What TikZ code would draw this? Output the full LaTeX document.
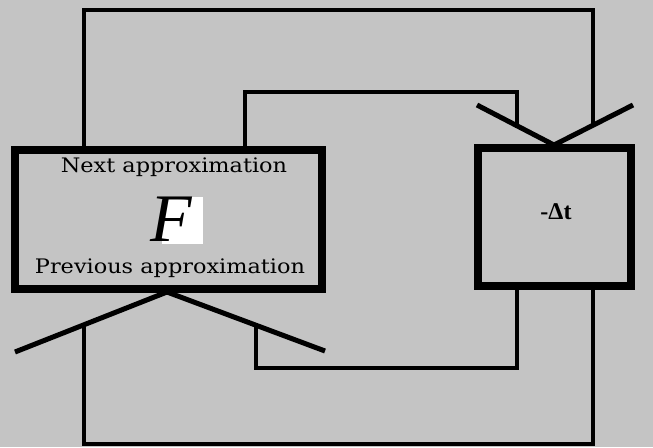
\documentclass[tikz,border=0pt]{standalone}
\usepackage{fontspec}
\setmainfont{DejaVu Serif}
\newfontfamily\labfont[FakeStretch=1.12]{DejaVu Serif}
\newfontfamily\boldlab{Liberation Serif}
\newfontfamily\bigf{Liberation Serif}
\definecolor{bg}{HTML}{C4C4C4}
\begin{document}
\begin{tikzpicture}[x=1pt,y=-1pt,
  wire/.style={line width=4pt, line join=miter},
  arm/.style={line width=5pt},
  lbl/.style={inner sep=0pt, font=\labfont\fontsize{20}{20}\selectfont}]
\fill[bg] (0,0) rectangle (653,447);
\useasboundingbox (0,0) rectangle (653,447);

% node positions (boxes are drawn last, see below)
\path (168.5,219.5) node[minimum width=307pt, minimum height=139pt, inner sep=0pt] (F) {};
\path (554.5,217) node[minimum width=153pt, minimum height=138pt, inner sep=0pt] (D) {};

% corner coordinates
\coordinate (t1) at (84,10);
\coordinate (t2) at (593,10);
\coordinate (t3) at (593,127);
\coordinate (u1) at (245,92);
\coordinate (u2) at (517,92);
\coordinate (u3) at (517,128);
\coordinate (b0) at (84,323);
\coordinate (b1) at (84,444);
\coordinate (b2) at (593,444);
\coordinate (c0) at (256,324);
\coordinate (c1) at (256,368);
\coordinate (c2) at (517,368);
\coordinate (FL) at (15,352);
\coordinate (FR) at (325,351);
\coordinate (DL) at (477,105);
\coordinate (DR) at (633,105);
\coordinate (Fap) at (167,292);
\coordinate (Dap) at (554,145);

% loops
\draw[wire] (F.north -| t1) -- (t1) -- (t2) -- (t3);
\draw[wire] (F.north -| u1) -- (u1) -- (u2) -- (u3);
\draw[wire] (b0) -- (b1) -- (b2) -- (D.south -| b2);
\draw[wire] (c0) -- (c1) -- (c2) -- (D.south -| c2);

% V shapes
\draw[arm] (FL) -- (Fap) -- (FR);
\draw[arm] (DL) -- (Dap) -- (DR);

% boxes
\draw[line width=8pt] (F.north west) rectangle (F.south east);
\draw[line width=8pt] (D.north west) rectangle (D.south east);

% labels
\node[fill=white, minimum width=41pt, minimum height=47pt, inner sep=0pt] (Fbg) at (182.5,220.5) {};
\node[inner sep=0pt, font=\bigf\itshape\fontsize{68}{68}\selectfont] (Fl) at (171,219) {F};
\node[lbl] (next) at (174,167) {Next approximation};
\node[lbl] (prev) at (170,268) {Previous approximation};
\node[inner sep=0pt, font=\boldlab\bfseries\fontsize{24}{24}\selectfont] (dt) at (556,212) {-Δt};
\end{tikzpicture}
\end{document}
